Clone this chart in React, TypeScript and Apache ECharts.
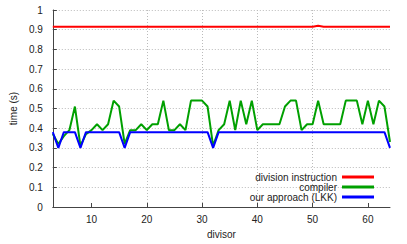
import React, { useEffect, useRef } from "react";
import * as echarts from "echarts";

const divisors = [3,4,5,6,7,8,9,10,11,12,13,14,15,16,17,18,19,20,21,22,23,24,25,26,27,28,29,30,31,32,33,34,35,36,37,38,39,40,41,42,43,44,45,46,47,48,49,50,51,52,53,54,55,56,57,58,59,60,61,62,63,64];

const divisionInstruction = [0.915,0.915,0.915,0.915,0.915,0.915,0.915,0.915,0.915,0.915,0.915,0.915,0.915,0.915,0.915,0.915,0.915,0.915,0.915,0.915,0.915,0.915,0.915,0.915,0.915,0.915,0.915,0.915,0.915,0.915,0.915,0.915,0.915,0.915,0.915,0.915,0.915,0.915,0.915,0.915,0.915,0.915,0.915,0.915,0.915,0.915,0.915,0.915,0.92,0.915,0.915,0.915,0.915,0.915,0.915,0.915,0.915,0.915,0.915,0.915,0.915,0.915];

const compiler = [0.37,0.32,0.36,0.39,0.51,0.31,0.37,0.39,0.42,0.39,0.42,0.54,0.51,0.32,0.39,0.39,0.42,0.39,0.42,0.42,0.54,0.39,0.39,0.42,0.39,0.54,0.54,0.54,0.51,0.31,0.39,0.42,0.54,0.39,0.54,0.42,0.54,0.39,0.42,0.42,0.42,0.42,0.51,0.54,0.54,0.39,0.42,0.42,0.54,0.42,0.42,0.42,0.42,0.54,0.54,0.54,0.42,0.54,0.42,0.54,0.51,0.33];

const lkk = [0.38,0.30,0.38,0.38,0.38,0.30,0.38,0.38,0.38,0.38,0.38,0.38,0.38,0.30,0.38,0.38,0.38,0.38,0.38,0.38,0.38,0.38,0.38,0.38,0.38,0.38,0.38,0.38,0.38,0.30,0.38,0.38,0.38,0.38,0.38,0.38,0.38,0.38,0.38,0.38,0.38,0.38,0.38,0.38,0.38,0.38,0.38,0.38,0.38,0.38,0.38,0.38,0.38,0.38,0.38,0.38,0.38,0.38,0.38,0.38,0.38,0.30];

const xTickValues = [10, 20, 30, 40, 50, 60];

const FONT = "'Liberation Sans', Arial, sans-serif";

export default function App() {
  const ref = useRef<HTMLDivElement>(null);
  useEffect(() => {
    if (!ref.current) return;
    document.body.style.margin = "0";
    const chart = echarts.init(ref.current, null, { renderer: "svg" });
    const pair = (ys: number[]) => divisors.map((d, i) => [d, ys[i]]);
    chart.setOption({
      animation: false,
      textStyle: { fontFamily: FONT },
      grid: { left: 48, right: 17, top: 10, bottom: 32, containLabel: false },
      legend: {
        orient: "vertical",
        align: "right",
        right: 28,
        bottom: 37,
        itemWidth: 32,
        itemHeight: 3,
        itemGap: 0,
        icon: "rect",
        textStyle: { fontSize: 10, color: "#222", lineHeight: 9.6, fontFamily: FONT },
        data: ["division instruction", "compiler", "our approach (LKK)"],
      },
      xAxis: {
        type: "value",
        min: 3,
        max: 64,
        name: "divisor",
        nameLocation: "middle",
        nameGap: 22,
        nameTextStyle: { fontSize: 10, color: "#222", fontFamily: FONT },
        axisLine: { show: true, lineStyle: { color: "#444", width: 1 } },
        axisTick: { show: true, inside: true, length: 4, lineStyle: { color: "#444" }, customValues: xTickValues },
        axisLabel: { fontSize: 10, color: "#222", margin: 7, customValues: xTickValues, fontFamily: FONT },
        splitLine: {
          show: true,
          showMinLine: false,
          showMaxLine: false,
          lineStyle: { color: "#bbb", type: [1, 2], width: 1 },
        },
      },
      yAxis: {
        type: "value",
        min: 0,
        max: 1,
        interval: 0.1,
        name: "time (s)",
        nameLocation: "middle",
        nameGap: 32,
        nameTextStyle: { fontSize: 10, color: "#222", fontFamily: FONT },
        axisLine: { show: true, lineStyle: { color: "#444", width: 1 } },
        axisTick: { show: true, inside: true, length: 4, lineStyle: { color: "#444" } },
        axisLabel: { fontSize: 10, color: "#222", margin: 10, fontFamily: FONT },
        splitLine: {
          show: true,
          showMinLine: false,
          lineStyle: { color: "#bbb", type: [1, 2], width: 1 },
        },
      },
      series: [
        {
          name: "division instruction",
          type: "line",
          data: pair(divisionInstruction),
          showSymbol: false,
          symbol: "none",
          lineStyle: { color: "#ff0000", width: 2 },
          itemStyle: { color: "#ff0000" },
          z: 2,
        },
        {
          name: "compiler",
          type: "line",
          data: pair(compiler),
          showSymbol: false,
          symbol: "none",
          lineStyle: { color: "#00a000", width: 2 },
          itemStyle: { color: "#00a000" },
          z: 3,
        },
        {
          name: "our approach (LKK)",
          type: "line",
          data: pair(lkk),
          showSymbol: false,
          symbol: "none",
          lineStyle: { color: "#0000ff", width: 2 },
          itemStyle: { color: "#0000ff" },
          z: 4,
        },
      ],
    });
    return () => chart.dispose();
  }, []);
  return <div ref={ref} style={{ width: 407, height: 244 }} />;
}
